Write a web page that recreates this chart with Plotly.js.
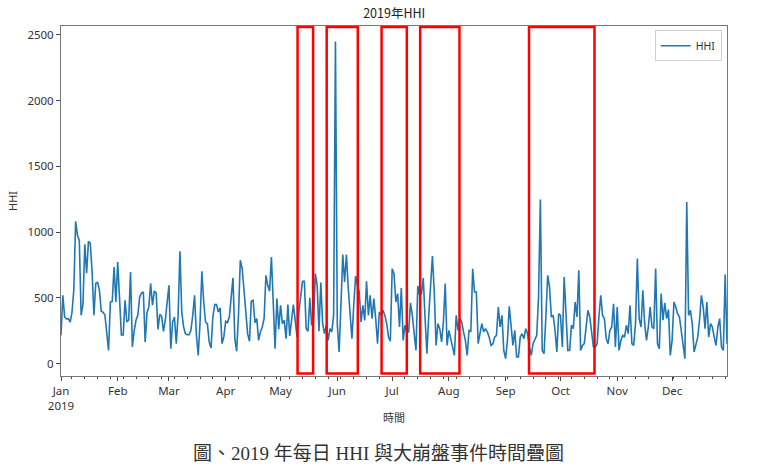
<!DOCTYPE html>
<html>
<head>
<meta charset="utf-8">
<script src="https://cdn.plot.ly/plotly-3.0.1.min.js"></script>
<style>
  html, body { margin: 0; padding: 0; background: #fff; }
  #chart { width: 761px; height: 474px; }
</style>
</head>
<body>
<div id="chart"></div>
<script>
// Daily HHI values for 2019, one array per month
const jan = [215, 520, 355, 340, 342, 315, 390, 560, 1083, 976, 938, 368, 450, 907, 687, 930, 915, 697, 368, 611, 618, 560, 398, 390, 370, 215, 101, 469, 472, 735, 470];
const feb = [773, 450, 219, 219, 481, 317, 330, 697, 127, 250, 330, 370, 507, 536, 545, 164, 388, 430, 610, 444, 550, 540, 260, 375, 360, 245, 330, 465];
const mar = [596, 114, 317, 355, 152, 367, 855, 393, 279, 228, 220, 220, 253, 367, 520, 215, 63, 317, 702, 469, 317, 304, 165, 119, 355, 449, 449, 393, 424, 152, 203];
const apr = [322, 312, 355, 495, 652, 190, 94, 367, 786, 727, 545, 342, 228, 170, 474, 482, 312, 342, 177, 241, 279, 342, 672, 596, 550, 811, 393, 114, 495, 261];
const may = [444, 304, 329, 190, 449, 210, 329, 449, 329, 203, 393, 520, 626, 626, 266, 246, 500, 292, 317, 685, 596, 246, 616, 304, 228, 292, 177, 266, 241, 367, 2450];
const jun = [300, 89, 444, 829, 621, 829, 571, 342, 190, 444, 667, 596, 545, 317, 444, 329, 626, 367, 520, 342, 495, 342, 152, 393, 367, 406, 367, 304, 203, 170];
const jul = [722, 685, 469, 533, 279, 576, 177, 292, 241, 241, 463, 367, 241, 101, 591, 520, 533, 652, 342, 76, 367, 571, 819, 545, 139, 304, 266, 165, 317, 609, 139];
const aug = [253, 190, 139, 63, 367, 253, 342, 317, 241, 177, 63, 253, 246, 722, 545, 545, 152, 215, 304, 241, 266, 241, 203, 139, 150, 202, 215, 431, 279, 367, 101];
const sep = [38, 177, 436, 254, 139, 254, 51, 51, 202, 228, 190, 266, 228, 127, 63, 152, 190, 215, 507, 1248, 101, 76, 355, 672, 583, 355, 367, 254, 89, 380];
const oct = [367, 127, 659, 355, 101, 101, 292, 266, 469, 355, 710, 101, 139, 152, 292, 406, 355, 228, 127, 127, 150, 355, 520, 367, 342, 190, 152, 254, 279, 456, 127];
const nov = [431, 101, 177, 215, 202, 292, 228, 444, 152, 139, 304, 799, 342, 279, 558, 304, 177, 279, 431, 279, 266, 723, 152, 114, 533, 330, 462, 342, 411, 63];
const dec = [177, 469, 431, 380, 355, 254, 139, 38, 1230, 367, 406, 304, 89, 152, 202, 330, 520, 431, 266, 469, 202, 304, 279, 202, 139, 279, 342, 127, 101, 677, 150];

// Month tick labels
const monthTickDates = ['2019-01-01','2019-02-01','2019-03-01','2019-04-01','2019-05-01','2019-06-01','2019-07-01','2019-08-01','2019-09-01','2019-10-01','2019-11-01','2019-12-01'];
const monthTickText = ['Jan<br>2019','Feb','Mar','Apr','May','Jun','Jul','Aug','Sep','Oct','Nov','Dec'];
const yTickVals = [0, 500, 1000, 1500, 2000, 2500];

// Crash event periods (highlighted by red boxes)
const eventStart = ['2019-05-10 07:00','2019-05-26 05:00','2019-06-25 05:00','2019-07-16 07:00','2019-09-13 19:00'];
const eventEnd   = ['2019-05-18 19:00','2019-06-12 05:00','2019-07-09 00:00','2019-08-06 19:00','2019-10-19 14:00'];

const hhi = [].concat(jan, feb, mar, apr, may, jun, jul, aug, sep, oct, nov, dec);
const dates = hhi.map((_, i) => {
  const d = new Date(Date.UTC(2019, 0, 1 + i));
  return d.toISOString().slice(0, 10);
});

const latin = 'Noto Sans, Noto Sans CJK TC, sans-serif';
const cjk = 'Noto Sans CJK TC, Noto Sans, sans-serif';

const trace = {
  type: 'scatter',
  mode: 'lines',
  x: dates,
  y: hhi,
  name: 'HHI',
  line: { color: '#1f77b4', width: 1.6 },
  hoverinfo: 'x+y'
};

const boxY0 = -75, boxY1 = 2560;
const shapes = eventStart.map((s, i) => ({
  type: 'rect', xref: 'x', yref: 'y',
  x0: s, x1: eventEnd[i], y0: boxY0, y1: boxY1,
  line: { color: '#ff0000', width: 2.5 },
  fillcolor: 'rgba(0,0,0,0)',
  layer: 'above'
}));

const layout = {
  width: 761, height: 474,
  margin: { l: 61, r: 34, t: 26, b: 98 },
  paper_bgcolor: '#fff', plot_bgcolor: '#fff',
  font: { family: latin, size: 11.5, color: '#333' },
  title: { text: '2019年HHI', font: { family: cjk, size: 12.5, color: '#222' }, x: 0.518, xanchor: 'center', y: 0.972, yanchor: 'middle' },
  showlegend: true,
  legend: {
    x: 0.992, xanchor: 'right', y: 0.988, yanchor: 'top',
    bgcolor: '#fff', bordercolor: '#d0d0d0', borderwidth: 1,
    font: { family: latin, size: 10.5, color: '#333' },
    itemwidth: 30,
    tracegroupgap: 0
  },
  xaxis: {
    type: 'date',
    range: ['2019-01-01', '2019-12-31'],
    tickmode: 'array', tickvals: monthTickDates, ticktext: monthTickText,
    ticks: 'outside', ticklen: 4, tickwidth: 1, tickcolor: '#444',
    minor: { ticks: 'outside', ticklen: 2, tickcolor: '#444', tick0: '2019-01-07', dtick: 7 * 86400000, showgrid: false },
    showgrid: false, zeroline: false,
    showline: true, mirror: true, linecolor: '#777', linewidth: 1,
    tickfont: { family: latin, size: 11.5, color: '#333' },
    title: { text: '時間', font: { family: cjk, size: 11, color: '#333' }, standoff: 2 }
  },
  yaxis: {
    range: [-94, 2568],
    tickmode: 'array', tickvals: yTickVals,
    ticks: 'outside', ticklen: 4, tickwidth: 1, tickcolor: '#444',
    showgrid: false, zeroline: false,
    showline: true, mirror: true, linecolor: '#777', linewidth: 1,
    tickfont: { family: latin, size: 11.5, color: '#333' },
    title: { text: 'HHI', font: { family: latin, size: 11, color: '#333' }, standoff: 7 }
  },
  shapes: shapes,
  annotations: [{
    text: '圖、2019 年每日 HHI 與大崩盤事件時間疊圖',
    xref: 'paper', yref: 'paper',
    x: 0.477, xanchor: 'center',
    y: -0.22, yanchor: 'middle',
    showarrow: false,
    font: { family: 'Liberation Serif, Noto Sans CJK TC, serif', size: 19, color: '#333' }
  }]
};

Plotly.newPlot('chart', [trace], layout, { displayModeBar: false, staticPlot: true });
</script>
</body>
</html>
